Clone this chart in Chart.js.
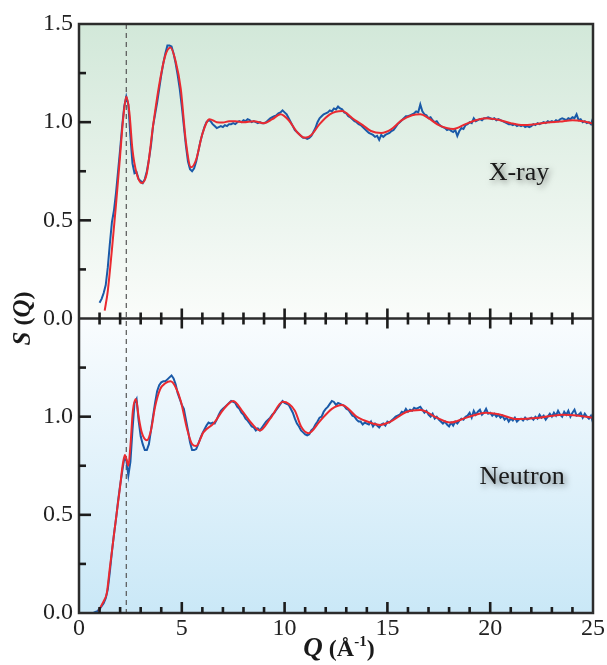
<!DOCTYPE html>
<html><head><meta charset="utf-8">
<script src="https://cdn.jsdelivr.net/npm/chart.js@4.4.1/dist/chart.umd.min.js"></script>
<style>html,body{margin:0;padding:0;background:#fff}#wrap{position:relative;width:607px;height:665px}</style>
</head><body><div id="wrap"><canvas id="c"></canvas></div>
<script>
// ---------- DATA ----------
const qGrid = [0.7,0.8,0.9,
1.0,1.1,1.2,1.3,1.4,1.5,1.6,1.7,1.8,1.9,
2.0,2.1,2.2,2.3,2.4,2.5,2.6,2.7,2.8,2.9,
3.0,3.1,3.2,3.3,3.4,3.5,3.6,3.7,3.8,3.9,
4.0,4.1,4.2,4.3,4.4,4.5,4.6,4.7,4.8,4.9,
5.0,5.1,5.2,5.3,5.4,5.5,5.6,5.7,5.8,5.9,
6.0,6.1,6.2,6.3,6.4,6.5,6.6,6.7,6.8,6.9,
7.0,7.1,7.2,7.3,7.4,7.5,7.6,7.7,7.8,7.9,
8.0,8.1,8.2,8.3,8.4,8.5,8.6,8.7,8.8,8.9,
9.0,9.1,9.2,9.3,9.4,9.5,9.6,9.7,9.8,9.9,
10.0,10.1,10.2,10.3,10.4,10.5,10.6,10.7,10.8,10.9,
11.0,11.1,11.2,11.3,11.4,11.5,11.6,11.7,11.8,11.9,
12.0,12.1,12.2,12.3,12.4,12.5,12.6,12.7,12.8,12.9,
13.0,13.1,13.2,13.3,13.4,13.5,13.6,13.7,13.8,13.9,
14.0,14.1,14.2,14.3,14.4,14.5,14.6,14.7,14.8,14.9,
15.0,15.1,15.2,15.3,15.4,15.5,15.6,15.7,15.8,15.9,
16.0,16.1,16.2,16.3,16.4,16.5,16.6,16.7,16.8,16.9,
17.0,17.1,17.2,17.3,17.4,17.5,17.6,17.7,17.8,17.9,
18.0,18.1,18.2,18.3,18.4,18.5,18.6,18.7,18.8,18.9,
19.0,19.1,19.2,19.3,19.4,19.5,19.6,19.7,19.8,19.9,
20.0,20.1,20.2,20.3,20.4,20.5,20.6,20.7,20.8,20.9,
21.0,21.1,21.2,21.3,21.4,21.5,21.6,21.7,21.8,21.9,
22.0,22.1,22.2,22.3,22.4,22.5,22.6,22.7,22.8,22.9,
23.0,23.1,23.2,23.3,23.4,23.5,23.6,23.7,23.8,23.9,
24.0,24.1,24.2,24.3,24.4,24.5,24.6,24.7,24.8,24.9,
25.0];

// X-ray measured S(Q) (blue)
const xrayMeasured = [null,null,null,
0.08,0.10,0.13,0.17,0.26,0.38,0.49,0.55,0.64,0.75,
0.86,0.98,1.08,1.13,1.09,0.93,0.79,0.74,0.745,0.71,
0.70,0.69,0.71,0.75,0.81,0.88,0.98,1.04,1.10,1.17,
1.24,1.30,1.35,1.39,1.39,1.385,1.35,1.30,1.24,1.17,
1.08,0.98,0.88,0.80,0.76,0.75,0.765,0.80,0.85,0.90,
0.94,0.975,1.0,1.01,1.005,0.99,0.98,0.97,0.975,0.98,
0.975,0.985,0.98,0.99,0.99,0.995,0.99,1.0,1.005,1.0,
1.01,1.005,1.015,1.01,1.0,1.005,1.0,0.995,1.0,0.995,
0.995,1.0,1.01,1.02,1.025,1.03,1.035,1.045,1.05,1.06,
1.05,1.04,1.02,1.0,0.98,0.96,0.95,0.94,0.93,0.92,
0.92,0.915,0.92,0.93,0.95,0.97,1.0,1.02,1.03,1.04,
1.045,1.05,1.06,1.055,1.07,1.065,1.08,1.07,1.065,1.05,
1.045,1.03,1.025,1.015,1.005,1.0,0.99,0.985,0.975,0.965,
0.955,0.945,0.94,0.935,0.925,0.93,0.91,0.935,0.925,0.935,
0.94,0.945,0.955,0.96,0.975,0.99,1.0,1.01,1.02,1.03,
1.03,1.035,1.04,1.045,1.055,1.05,1.09,1.055,1.04,1.035,
1.02,1.025,1.01,1.0,1.005,0.99,0.98,0.975,0.97,0.96,
0.965,0.955,0.95,0.96,0.93,0.955,0.97,0.965,0.985,0.99,
1.0,0.995,1.02,1.005,1.01,1.015,1.01,1.02,1.02,1.025,
1.02,1.015,1.02,1.01,1.015,1.01,1.005,1.0,0.995,0.99,
0.99,0.985,0.99,0.98,0.985,0.98,0.985,0.975,0.98,0.975,
0.98,0.99,0.985,0.995,0.99,0.995,1.0,0.995,1.005,1.0,
1.005,1.0,1.01,1.005,1.015,1.02,1.015,1.01,1.02,1.015,
1.025,1.02,1.04,1.01,1.015,1.0,1.005,0.995,1.0,0.99,
1.02];

// Neutron measured S(Q) (blue)
const neutronMeasured = [0.0,0.005,0.01,
0.02,0.035,0.05,0.075,0.12,0.21,0.31,0.40,0.48,0.57,
0.65,0.72,0.785,0.78,0.70,0.77,0.93,1.07,1.09,0.98,
0.90,0.86,0.83,0.83,0.86,0.93,1.0,1.07,1.13,1.16,
1.175,1.18,1.18,1.19,1.20,1.21,1.195,1.165,1.12,1.09,
1.06,1.04,0.985,0.93,0.87,0.83,0.83,0.835,0.86,0.89,
0.915,0.935,0.955,0.97,0.965,0.97,0.965,0.985,1.01,1.03,
1.04,1.05,1.06,1.07,1.08,1.075,1.07,1.05,1.04,1.02,
1.01,0.99,0.98,0.965,0.95,0.945,0.93,0.94,0.93,0.945,
0.96,0.975,0.985,0.995,1.01,1.02,1.035,1.05,1.065,1.08,
1.07,1.065,1.06,1.04,1.02,0.99,0.965,0.95,0.93,0.92,
0.91,0.905,0.91,0.93,0.94,0.96,0.975,0.995,1.0,1.025,
1.04,1.05,1.065,1.08,1.075,1.06,1.07,1.065,1.06,1.055,
1.04,1.035,1.02,1.005,1.0,0.985,0.975,0.975,0.96,0.97,
0.965,0.96,0.975,0.95,0.965,0.955,0.945,0.96,0.965,0.955,
0.975,0.97,0.98,0.99,1.0,1.005,1.01,1.025,1.02,1.04,
1.025,1.035,1.03,1.045,1.04,1.045,1.05,1.035,1.02,1.03,
1.01,1.0,1.015,0.99,1.0,0.985,0.975,0.965,0.975,0.96,
0.95,0.97,0.955,0.975,0.965,0.98,0.99,0.985,1.0,1.005,
1.02,0.995,1.03,1.01,1.025,1.035,1.01,1.02,1.04,1.015,
1.02,1.005,1.015,1.0,1.01,0.995,1.005,0.985,0.995,0.975,
0.99,0.98,0.995,0.975,0.985,0.99,0.98,0.995,0.985,0.99,
0.995,0.985,1.0,0.99,1.01,0.995,1.005,0.985,1.0,1.015,
1.0,1.02,1.005,1.03,1.01,1.0,1.025,1.01,1.03,1.0,
1.02,1.035,1.005,1.01,1.02,0.995,1.015,1.0,0.99,1.005,
0.97];

// X-ray model S(Q) (red)
const xrayModelQ = [1.25,1.4,1.6,1.8,2.0,2.15,2.3,2.45,2.6,2.8,3.05,3.3,3.6,3.9,4.2,4.45,4.7,4.95,5.2,5.45,5.7,6.0,6.35,6.7,7.0,7.3,7.6,8.0,8.5,9.0,9.4,9.8,10.2,10.6,11.0,11.3,11.7,12.2,12.8,13.3,13.8,14.2,14.7,15.2,15.7,16.2,16.6,17.0,17.5,18.2,18.8,19.3,19.8,20.4,21.0,21.6,22.2,22.8,23.4,24.0,24.5,25.0];
const xrayModelS = [0.04,0.14,0.35,0.58,0.83,1.02,1.13,1.05,0.86,0.74,0.69,0.74,0.98,1.19,1.34,1.38,1.31,1.17,0.90,0.77,0.81,0.94,1.015,1.0,0.998,1.005,1.005,1.0,1.005,0.995,1.015,1.04,1.01,0.95,0.92,0.935,0.99,1.04,1.057,1.02,0.985,0.955,0.945,0.965,1.01,1.035,1.04,1.02,0.985,0.965,0.99,1.01,1.02,1.012,0.995,0.985,0.99,0.998,1.003,1.01,1.005,0.993];

// Neutron model S(Q) (red)
const neutronModelQ = [0.95,1.1,1.25,1.35,1.5,1.75,2.0,2.12,2.23,2.32,2.4,2.5,2.62,2.77,2.9,3.05,3.3,3.5,3.7,3.95,4.2,4.45,4.7,4.95,5.25,5.5,5.7,6.05,6.55,7.05,7.5,8.0,8.4,8.8,9.3,9.92,10.5,10.8,11.17,11.7,12.3,12.8,13.5,14.15,14.65,15.15,15.95,16.6,17.4,18.05,18.85,19.8,20.5,21.3,22.4,23.5,24.3,25.0];
const neutronModelS = [0.01,0.04,0.07,0.10,0.23,0.44,0.645,0.75,0.805,0.78,0.75,0.85,1.03,1.09,1.0,0.92,0.88,0.93,1.05,1.14,1.17,1.18,1.15,1.08,0.94,0.86,0.85,0.92,0.966,1.04,1.08,1.02,0.965,0.93,0.99,1.076,1.03,0.95,0.916,0.975,1.04,1.06,1.0,0.97,0.958,0.975,1.025,1.034,0.995,0.97,0.995,1.02,1.01,0.988,0.995,1.01,1.005,0.995];

const xTickLabels = [0,5,10,15,20,25];
const yTickLabels = ['0.0','0.5','1.0','1.5'];
const dashedQ = 2.3;
const panelNames = ['X-ray','Neutron'];
const panelLabelPos = [{q:21.4, s:0.74}, {q:21.55, s:0.69}];
const yTitle = ['S',' (','Q',')'];
const xTitle = ['Q',' (Å','-1',')'];

// ---------- CHART ----------
const FONT = "'Liberation Serif','Times New Roman',serif";
const BLUE = '#1a5aa8', RED = '#ea2a30';

function pts(xs, ys){ return xs.map((q,i)=>({x:q, y:ys[i]})); }

const deco = {
  id:'deco',
  beforeDatasetsDraw(chart){
    const {ctx, chartArea:a, scales} = chart;
    const yt = scales.yTop, yb = scales.yBot, x = scales.x;
    ctx.save();
    let g = ctx.createLinearGradient(0, yt.top, 0, yt.bottom);
    g.addColorStop(0, '#d2e8d9'); g.addColorStop(1, '#fafcfa');
    ctx.fillStyle = g; ctx.fillRect(a.left, yt.top, a.right - a.left, yt.bottom - yt.top);
    g = ctx.createLinearGradient(0, yb.top, 0, yb.bottom);
    g.addColorStop(0, '#f9fcfe'); g.addColorStop(1, '#cae8f7');
    ctx.fillStyle = g; ctx.fillRect(a.left, yb.top, a.right - a.left, yb.bottom - yb.top);
    const dx = x.getPixelForValue(dashedQ);
    ctx.setLineDash([5,4]); ctx.strokeStyle = '#555'; ctx.lineWidth = 1.2;
    ctx.beginPath(); ctx.moveTo(dx, a.top); ctx.lineTo(dx, a.bottom); ctx.stroke();
    ctx.restore();
  },
  afterDatasetsDraw(chart){
    const {ctx, chartArea:a, scales} = chart;
    const yt = scales.yTop, yb = scales.yBot, x = scales.x;
    const div = yt.bottom;
    ctx.save();
    // frame
    ctx.strokeStyle = '#2c2c2c'; ctx.lineWidth = 2.5;
    ctx.strokeRect(a.left, a.top, a.right - a.left, a.bottom - a.top);
    ctx.beginPath(); ctx.moveTo(a.left, div); ctx.lineTo(a.right, div); ctx.stroke();
    // x ticks
    ctx.strokeStyle = '#1c1c1c'; ctx.lineWidth = 2.6;
    for (let q = 1; q < 25; q++) {
      const px = x.getPixelForValue(q);
      const major = q % 5 === 0;
      const Lb = major ? 11 : 6, Lm = major ? 10 : 6;
      ctx.beginPath();
      ctx.moveTo(px, a.bottom); ctx.lineTo(px, a.bottom - Lb);
      ctx.moveTo(px, div - Lm); ctx.lineTo(px, div + Lm);
      ctx.stroke();
    }
    // y ticks
    [yt, yb].forEach(s => {
      for (let k = 1; k < 6; k++) {
        const v = k * 0.25;
        const py = s.getPixelForValue(v);
        const L = (k % 2 === 0) ? 12 : 7;
        ctx.beginPath(); ctx.moveTo(a.left, py); ctx.lineTo(a.left + L, py); ctx.stroke();
      }
    });
    // panel labels with soft shadow
    ctx.font = '26px ' + FONT;
    ctx.textAlign = 'center'; ctx.textBaseline = 'middle';
    ctx.shadowColor = 'rgba(0,0,0,0.55)'; ctx.shadowBlur = 6;
    ctx.shadowOffsetX = 2; ctx.shadowOffsetY = 2;
    ctx.fillStyle = '#1a1a1a';
    ctx.fillText(panelNames[0], x.getPixelForValue(panelLabelPos[0].q), yt.getPixelForValue(panelLabelPos[0].s));
    ctx.fillText(panelNames[1], x.getPixelForValue(panelLabelPos[1].q), yb.getPixelForValue(panelLabelPos[1].s));
    ctx.shadowColor = 'transparent'; ctx.shadowBlur = 0; ctx.shadowOffsetX = 0; ctx.shadowOffsetY = 0;

    // axis titles
    ctx.fillStyle = '#1a1a1a';
    ctx.textAlign = 'left'; ctx.textBaseline = 'alphabetic';
    const bi = 'italic bold 25px ' + FONT, b = 'bold 24px ' + FONT;
    // y title
    const yRuns = [{t:yTitle[0], f:bi, dy:0},{t:yTitle[1], f:b, dy:0},{t:yTitle[2], f:bi, dy:0},{t:yTitle[3], f:b, dy:0}];
    let w = 0; yRuns.forEach(r => { ctx.font = r.f; r.w = ctx.measureText(r.t).width; w += r.w; });
    ctx.save();
    ctx.translate(30, div);
    ctx.rotate(-Math.PI/2);
    let cx = -w/2;
    yRuns.forEach(r => { ctx.font = r.f; ctx.fillText(r.t, cx, r.dy); cx += r.w; });
    ctx.restore();
    // x title
    const xRuns = [{t:xTitle[0], f:'italic bold 27px ' + FONT, dy:0},{t:xTitle[1], f:b, dy:0},{t:xTitle[2], f:'bold 15px ' + FONT, dy:-10},{t:xTitle[3], f:b, dy:0}];
    w = 0; xRuns.forEach(r => { ctx.font = r.f; r.w = ctx.measureText(r.t).width; w += r.w; });
    cx = (a.left + a.right)/2 + 3 - w/2;
    xRuns.forEach(r => { ctx.font = r.f; ctx.fillText(r.t, cx, 656 + r.dy); cx += r.w; });
    ctx.restore();
  }
};

new Chart(document.getElementById('c'), {
  type: 'line',
  data: { datasets: [
    { label:'X-ray model', data: pts(xrayModelQ, xrayModelS), yAxisID:'yTop', borderColor:RED, borderWidth:2, pointRadius:0, cubicInterpolationMode:'monotone', order:0, fill:false },
    { label:'X-ray measured', data: pts(qGrid, xrayMeasured), yAxisID:'yTop', borderColor:BLUE, borderWidth:2, pointRadius:0, tension:0, order:1, fill:false },
    { label:'Neutron model', data: pts(neutronModelQ, neutronModelS), yAxisID:'yBot', borderColor:RED, borderWidth:2, pointRadius:0, cubicInterpolationMode:'monotone', order:0, fill:false },
    { label:'Neutron measured', data: pts(qGrid, neutronMeasured), yAxisID:'yBot', borderColor:BLUE, borderWidth:2, pointRadius:0, tension:0, order:1, fill:false }
  ]},
  options: {
    responsive:true, maintainAspectRatio:false, animation:false,
    layout:{ padding:{ top:24, right:14, left:0, bottom:0 } },
    plugins:{ legend:{display:false}, tooltip:{enabled:false} },
    scales:{
      x:{ type:'linear', position:'bottom', min:0, max:25,
          grid:{display:false, drawTicks:false}, border:{display:false},
          afterBuildTicks(s){ s.ticks = xTickLabels.map(v => ({value:v})); },
          ticks:{ padding:1, color:'#222', font:{family:FONT, size:24}, maxRotation:0, autoSkip:false, callback:v => String(v) },
          afterFit(s){ s.height = 52; } },
      yBot:{ type:'linear', position:'left', stack:'panels', stackWeight:1, weight:1, min:0, max:1.5,
          grid:{display:false, drawTicks:false}, border:{display:false},
          afterBuildTicks(s){ s.ticks = [0,0.5,1,1.5].map(v => ({value:v})); },
          ticks:{ padding:6, color:'#222', font:{family:FONT, size:24}, autoSkip:false,
                  callback:(v,i) => i < 3 ? yTickLabels[i] : '' },
          afterFit(s){ s.width = 79; } },
      yTop:{ type:'linear', position:'left', stack:'panels', stackWeight:1, weight:2, min:0, max:1.5,
          grid:{display:false, drawTicks:false}, border:{display:false},
          afterBuildTicks(s){ s.ticks = [0,0.5,1,1.5].map(v => ({value:v})); },
          ticks:{ padding:6, color:'#222', font:{family:FONT, size:24}, autoSkip:false,
                  callback:(v,i) => yTickLabels[i] },
          afterFit(s){ s.width = 79; } }
    }
  },
  plugins:[deco]
});
</script>
</body></html>
